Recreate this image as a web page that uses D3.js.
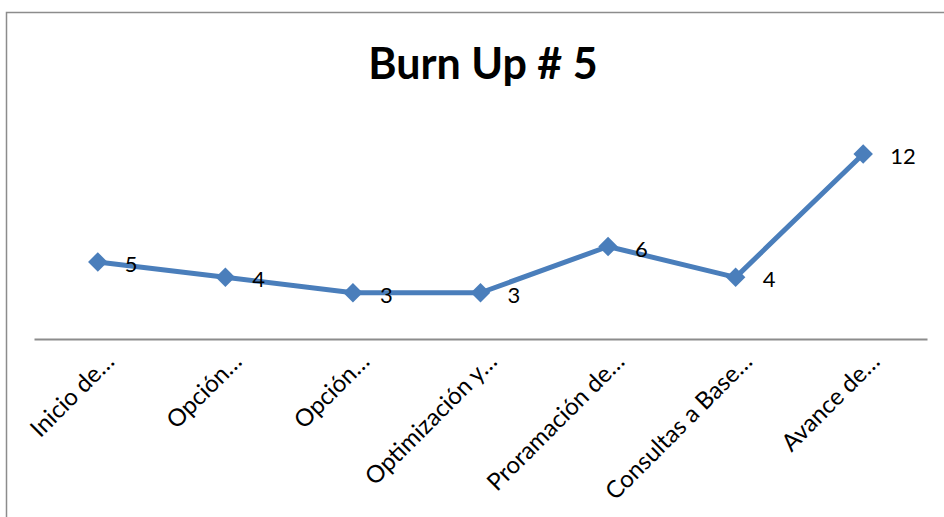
<!DOCTYPE html>
<html>
<head>
<meta charset="utf-8">
<script src="https://cdn.jsdelivr.net/npm/d3@7"></script>
<style>
html, body { margin: 0; padding: 0; background: #fff; overflow: hidden; }
text { font-family: Lato, "Open Sans", sans-serif; }
</style>
</head>
<body>
<div class="graphic"></div>
<script>
var width = 944;
var height = 517;

// data
var categories = ["Inicio de…", "Opción…", "Opción…", "Optimización y…",
	"Proramación de…", "Consultas a Base…", "Avance de…"];
var values = [5, 4, 3, 3, 6, 4, 12];
var title = "Burn Up # 5";

var svg = d3.select("div.graphic").append("svg")
	.attr("width", width)
	.attr("height", height);

// chart frame
svg.append("rect")
	.attr("x", 6.5).attr("y", 12.5)
	.attr("width", 1000).attr("height", 600)
	.attr("fill", "none")
	.attr("stroke", "#8c8c8c")
	.attr("stroke-width", 1.5);

svg.append("text")
	.attr("x", 483).attr("y", 79)
	.attr("text-anchor", "middle")
	.attr("font-size", 43)
	.attr("font-weight", "bold")
	.text(title);

var x = d3.scaleBand()
	.domain(d3.range(categories.length))
	.range([34, 927]);
var y = d3.scaleLinear()
	.domain([0, 12])
	.range([339, 154]);

function cx(i) { return x(i) + x.bandwidth() / 2; }

// category axis
var axis = d3.axisBottom(x)
	.tickSize(0)
	.tickFormat(function (i) { return categories[i]; });
var gx = svg.append("g")
	.attr("transform", "translate(0," + y(0) + ")")
	.call(axis);
gx.select(".domain").attr("stroke", "#8c8c8c").attr("stroke-width", 2);
gx.selectAll(".tick text")
	.attr("font-size", 24)
	.attr("font-family", "Lato, 'Open Sans', sans-serif")
	.attr("fill", "#000")
	.attr("text-anchor", "end")
	.attr("dy", 0)
	.attr("y", 0)
	.attr("transform", "translate(18,24) rotate(-45)");

// line
var line = d3.line()
	.x(function (d, i) { return cx(i); })
	.y(function (d) { return y(d); });

svg.append("path")
	.datum(values)
	.attr("d", line)
	.attr("fill", "none")
	.attr("stroke", "#4a7ebb")
	.attr("stroke-width", 5)
	.attr("stroke-linejoin", "round");

var diamond = d3.symbol().type(d3.symbolSquare).size(190);
svg.selectAll("path.marker")
	.data(values)
	.enter()
	.append("path")
	.attr("class", "marker")
	.attr("d", diamond)
	.attr("transform", function (d, i) {
		return "translate(" + cx(i) + "," + y(d) + ") rotate(45)";
	})
	.attr("fill", "#4a7ebb");

svg.selectAll("text.label")
	.data(values)
	.enter()
	.append("text")
	.attr("class", "label")
	.attr("x", function (d, i) { return cx(i) + 27; })
	.attr("y", function (d) { return y(d) + 10; })
	.attr("font-size", 22)
	.text(function (d) { return d; });
</script>
</body>
</html>
